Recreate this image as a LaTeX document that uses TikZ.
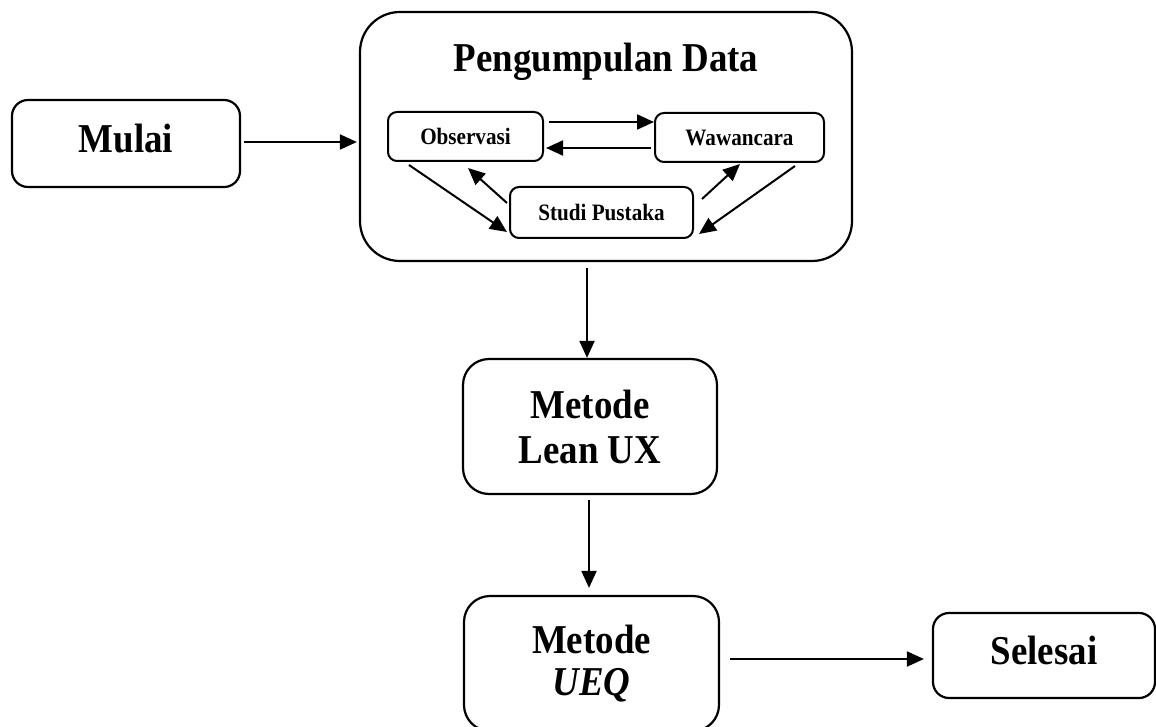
\documentclass[tikz,border=0pt]{standalone}
\usepackage{fontspec}
\setmainfont{Liberation Serif}[FakeStretch=0.9]
\usetikzlibrary{calc,arrows.meta}
\begin{document}
\begin{tikzpicture}[x=1pt,y=-1pt,
  box/.style={draw,line width=2.2pt,rounded corners=#1,inner sep=0pt,align=center,font=\bfseries\fontsize{41}{45}\selectfont},
  small/.style={draw,line width=2pt,rounded corners=9pt,inner sep=0pt,font=\bfseries\fontsize{23.5}{26}\selectfont},
  arr/.style={line width=2pt,-{Triangle[length=17pt,width=15pt]}}]
\useasboundingbox (0,0) rectangle (1156,727);
\node[box=16pt,minimum width=228pt,minimum height=87pt,text depth=10pt] (mulai) at (126,143.5) {Mulai};
\node[box=40pt,minimum width=492pt,minimum height=249pt] (pd) at (606,136.5) {};
\node[font=\bfseries\fontsize{41}{45}\selectfont,inner sep=0pt] (title) at (606,62) {Pengumpulan Data};
\node[small,minimum width=155pt,minimum height=49pt] (obs) at (465.5,136.5) {Observasi};
\node[small,minimum width=169pt,minimum height=49pt] (waw) at (739.5,137.5) {Wawancara};
\node[small,minimum width=183pt,minimum height=51pt] (studi) at (601.5,212.5) {Studi Pustaka};
\node[box=26pt,minimum width=254pt,minimum height=135pt] (lean) at (590,426.5) {Metode\\Lean UX};
\node[box=26pt,minimum width=255pt,minimum height=135pt] (ueq) at (591.5,663.5) {Metode\\[-3pt]\textit{UEQ}};
\node[box=16pt,minimum width=222pt,minimum height=85pt,text depth=10pt] (sel) at (1044,655.5) {Selesai};
\draw[arr] ($(mulai.east)+(3,-1.5)$) -- ($(pd.west)+(-2,5.5)$);
\draw[arr] ($(obs.east)+(5,-14.5)$) -- ($(waw.west)+(0,-15.5)$);
\draw[arr] ($(waw.west)+(-3,10.5)$) -- ($(obs.east)+(2,11.5)$);
\draw[arr] ($(obs.south)+(-56.5,3)$) -- ($(studi.west)+(-2,19.5)$);
\draw[arr] ($(studi.west)+(-2,-9.5)$) -- ($(obs.south)+(2.5,6)$);
\draw[arr] ($(studi.east)+(8,-13.5)$) -- ($(waw.south)+(0.5,1)$);
\draw[arr] ($(waw.south)+(55.5,3)$) -- ($(studi.east)+(5,21.5)$);
\draw[arr] ($(pd.south)+(-19,6)$) -- ($(lean.north)+(-3,0)$);
\draw[arr] ($(lean.south)+(-1,5)$) -- ($(ueq.north)+(-2.5,-7)$);
\draw[arr] ($(ueq.east)+(10,-4.5)$) -- ($(sel.west)+(-8,3.5)$);
\end{tikzpicture}
\end{document}
